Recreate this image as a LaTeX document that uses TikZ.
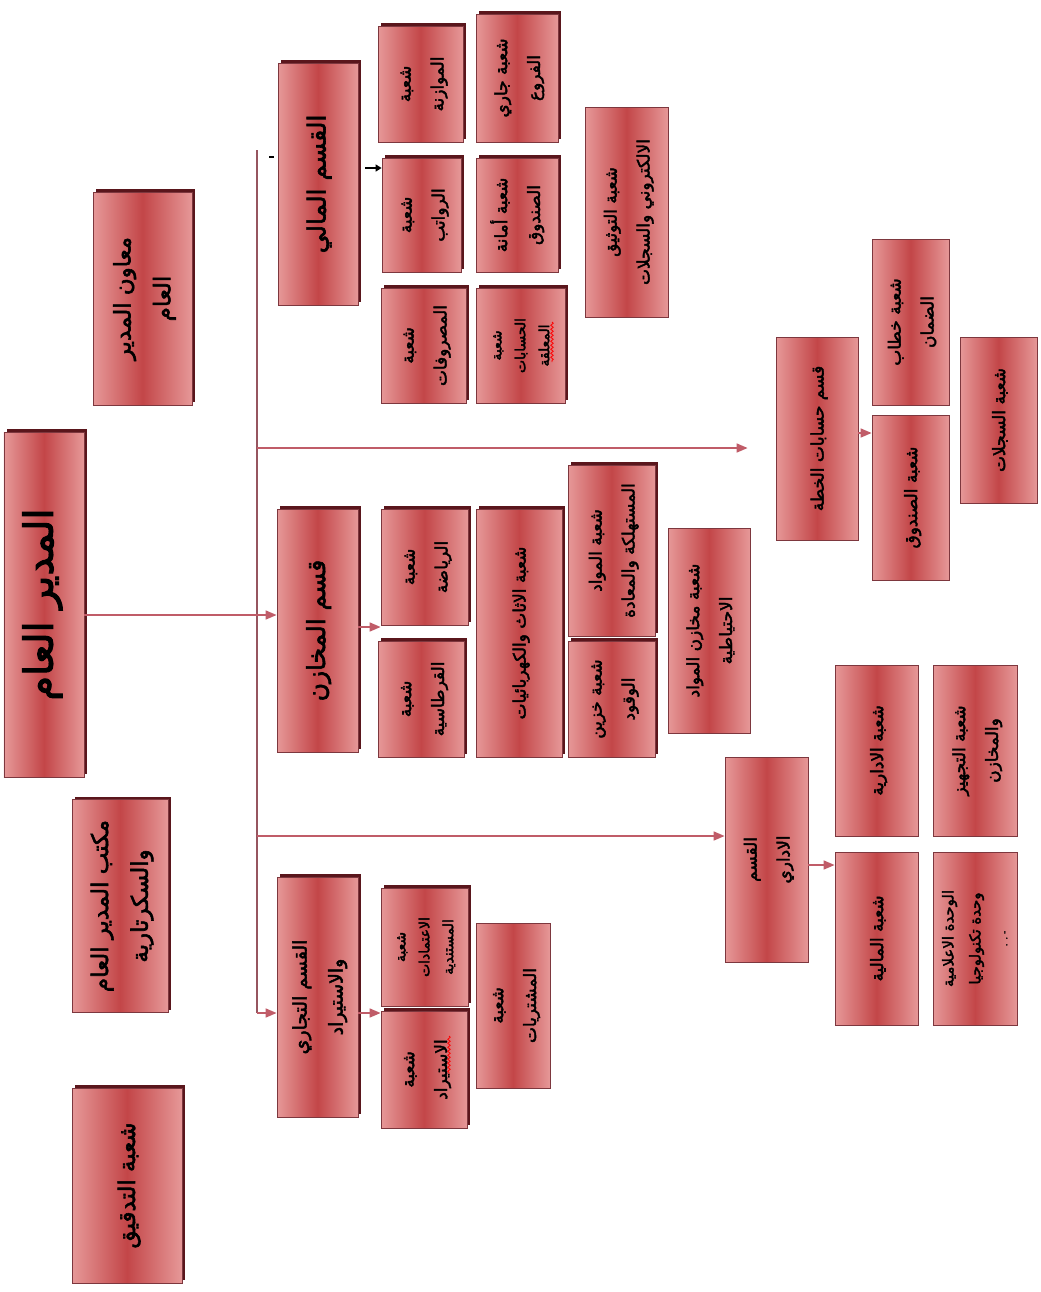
\documentclass[tikz,border=0pt]{standalone}
\usepackage{fontspec}
\usetikzlibrary{shadows,arrows.meta,calc,decorations.pathmorphing}
\TeXXeTstate=1
\newfontfamily\arabicfont[Script=Arabic,FakeBold=2.5]{DejaVu Sans}
\newcommand\ar[1]{\beginR #1\endR}
\newcommand\rt[1]{\rotatebox{90}{\begin{tabular}{@{}c@{}}#1\end{tabular}}}
\definecolor{boxedge}{RGB}{230,152,152}
\definecolor{boxmid}{RGB}{195,70,72}
\definecolor{boxline}{RGB}{125,55,62}
\definecolor{shad}{RGB}{90,22,28}
\definecolor{connc}{RGB}{192,92,104}
\definecolor{barc}{RGB}{150,85,95}
\tikzset{
  base/.style={draw=boxline, line width=0.8bp, left color=boxedge, right color=boxedge, middle color=boxmid, inner sep=0pt, text=black, font=\arabicfont\fontsize{17}{33}\selectfont},
  shbox/.style={base, drop shadow={shadow xshift=3bp, shadow yshift=3bp, fill=shad, opacity=1}},
  plainbox/.style={base},
  headfont/.style={font=\arabicfont\fontsize{25}{38}\selectfont},
  topfont/.style={font=\arabicfont\fontsize{23}{40}\selectfont},
  threefont/.style={font=\arabicfont\fontsize{14}{24}\selectfont},
  conn/.style={draw=connc, line width=1.6bp, -{Triangle[length=11bp,width=9bp]}},
  barline/.style={draw=barc, line width=1.3bp},
  blk/.style={draw=black, line width=2.2bp, -{Triangle[length=6bp,width=7bp]}},
  spell/.style={draw=red, line width=0.8bp, decorate, decoration={snake, amplitude=1.2bp, segment length=4bp}}
}
\begin{document}
\begin{tikzpicture}[x=1bp,y=-1bp]
\useasboundingbox (0,0) rectangle (1041,1292);
% top level
\node[shbox, minimum width=80bp, minimum height=345bp, font=\arabicfont\fontsize{40}{44}\selectfont] (gm) at (44,604.5) {\rt{\ar{المدير العام}}};
\node[shbox, topfont, minimum width=99bp, minimum height=213bp] (asst) at (142.5,298.5) {\rt{\ar{معاون المدير}\\\ar{العام}}};
\node[shbox, topfont, minimum width=96bp, minimum height=213bp] (office) at (120,906) {\rt{\ar{مكتب المدير العام}\\\ar{والسكرتارية}}};
\node[shbox, topfont, minimum width=110bp, minimum height=195bp] (audit) at (127,1185.5) {\rt{\ar{شعبة التدقيق}}};
% financial
\node[shbox, headfont, minimum width=80bp, minimum height=242bp] (fin) at (318,184) {\rt{\ar{القسم المالي}}};
\node[shbox, minimum width=85bp, minimum height=116bp] (budget) at (420.5,84) {\rt{\ar{شعبة}\\\ar{الموازنة}}};
\node[shbox, minimum width=82bp, minimum height=128bp] (branches) at (517,78) {\rt{\ar{شعبة جاري}\\\ar{الفروع}}};
\node[shbox, minimum width=79bp, minimum height=114bp] (salaries) at (421.5,215) {\rt{\ar{شعبة}\\\ar{الرواتب}}};
\node[shbox, minimum width=82bp, minimum height=114bp] (cashier) at (517,215) {\rt{\ar{شعبة أمانة}\\\ar{الصندوق}}};
\node[shbox, minimum width=85bp, minimum height=115bp] (expenses) at (423.5,345.5) {\rt{\ar{شعبة}\\\ar{المصروفات}}};
\node[shbox, threefont, minimum width=89bp, minimum height=115bp] (suspense) at (520.5,345.5) {\rt{\ar{شعبة}\\\ar{الحسابات}\\\ar{المعلقة}}};
\node[plainbox, minimum width=83bp, minimum height=210bp] (docs) at (626.5,212) {\rt{\ar{شعبة التوثيق}\\\ar{الالكتروني والسجلات}}};
% stores
\node[shbox, headfont, minimum width=81bp, minimum height=243bp] (stores) at (317.5,630.5) {\rt{\ar{قسم المخازن}}};
\node[shbox, minimum width=87bp, minimum height=116bp] (sports) at (424.5,567) {\rt{\ar{شعبة}\\\ar{الرياضة}}};
\node[shbox, minimum width=86bp, minimum height=116bp] (stationery) at (421,699) {\rt{\ar{شعبة}\\\ar{القرطاسية}}};
\node[shbox, minimum width=86bp, minimum height=248bp] (furniture) at (519,633) {\rt{\ar{شعبة الاثاث والكهربائيات}}};
\node[shbox, minimum width=87bp, minimum height=171bp] (consumables) at (611.5,550.5) {\rt{\ar{شعبة المواد}\\\ar{المستهلكة والمعادة}}};
\node[shbox, minimum width=87bp, minimum height=116bp] (fuel) at (611.5,699) {\rt{\ar{شعبة خزين}\\\ar{الوقود}}};
\node[plainbox, minimum width=82bp, minimum height=205bp] (reserve) at (709,630.5) {\rt{\ar{شعبة مخازن المواد}\\\ar{الاحتياطية}}};
% plan accounts
\node[plainbox, minimum width=82bp, minimum height=203bp] (plan) at (817,438.5) {\rt{\ar{قسم حسابات الخطة}}};
\node[plainbox, minimum width=77bp, minimum height=166bp] (guarantee) at (910.5,322) {\rt{\ar{شعبة خطاب}\\\ar{الضمان}}};
\node[plainbox, minimum width=77bp, minimum height=165bp] (fund) at (910.5,497.5) {\rt{\ar{شعبة الصندوق}}};
\node[plainbox, minimum width=77bp, minimum height=166bp] (records) at (998.5,420) {\rt{\ar{شعبة السجلات}}};
% administrative
\node[plainbox, minimum width=83bp, minimum height=205bp] (admin) at (766.5,859.5) {\rt{\ar{القسم}\\\ar{الاداري}}};
\node[plainbox, minimum width=83bp, minimum height=171bp] (adminsec) at (876.5,750.5) {\rt{\ar{شعبة الادارية}}};
\node[plainbox, minimum width=84bp, minimum height=171bp] (supply) at (975,750.5) {\rt{\ar{شعبة التجهيز}\\\ar{والمخازن}}};
\node[plainbox, minimum width=83bp, minimum height=173bp] (finsec) at (876.5,938.5) {\rt{\ar{شعبة المالية}}};
\node[plainbox, minimum width=84bp, minimum height=173bp, font=\arabicfont\fontsize{15}{27}\selectfont] (media) at (975,938.5) {\rt{\ar{الوحدة الاعلامية}\\\ar{وحدة تكنولوجيا}\\{\fontsize{9}{12}\selectfont\ar{- . .}}}};
% commercial
\node[shbox, minimum width=81bp, minimum height=240bp, font=\arabicfont\fontsize{19}{36}\selectfont] (trade) at (317.5,997) {\rt{\ar{القسم التجاري}\\\ar{والاستيراد}}};
\node[shbox, threefont, minimum width=87bp, minimum height=118bp] (lc) at (424.5,947) {\rt{\ar{شعبة}\\\ar{الاعتمادات}\\\ar{المستندية}}};
\node[shbox, minimum width=86bp, minimum height=117bp] (import) at (424,1069.5) {\rt{\ar{شعبة}\\\ar{الاستيراد}}};
\node[plainbox, minimum width=74bp, minimum height=165bp] (purchases) at (513,1005.5) {\rt{\ar{شعبة}\\\ar{المشتريات}}};
% spell-check marks
\coordinate (sp1) at (449,1036);
\coordinate (sp2) at (449,1074);
\coordinate (sp3) at (552,322);
\coordinate (sp4) at (552,362);
\draw[spell] (sp1) -- (sp2);
\draw[spell] (sp3) -- (sp4);
% connectors
\coordinate (btop) at (257,150);
\coordinate (bbot) at (257,1013);
\coordinate (y615) at (0,615);
\coordinate (y448) at (0,448);
\coordinate (y836) at (0,836);
\coordinate (y627) at (0,627);
\coordinate (y433) at (0,433);
\coordinate (y865) at (0,865);
\coordinate (y168) at (0,168);
\coordinate (tk1) at (269,157);
\coordinate (tk2) at (274,157);
\draw[barline] (btop) -- (bbot);
\draw[conn] (gm.east |- y615) -- (stores.west |- y615);
\draw[conn, shorten >=28bp] (btop |- y448) -- (plan.west |- y448);
\draw[conn] (btop |- y836) -- (admin.west |- y836);
\draw[conn] (bbot) -- (trade.west |- bbot);
\draw[conn] (stores.east |- y627) -- (sports.west |- y627);
\draw[conn] (trade.east |- bbot) -- (import.west |- bbot);
\draw[conn] (plan.east |- y433) -- (fund.west |- y433);
\draw[conn] (admin.east |- y865) -- (finsec.west |- y865);
\draw[blk, shorten <=7bp] (fin.east |- y168) -- (salaries.west |- y168);
\draw[black, line width=1.8bp] (tk1) -- (tk2);
\end{tikzpicture}
\end{document}
